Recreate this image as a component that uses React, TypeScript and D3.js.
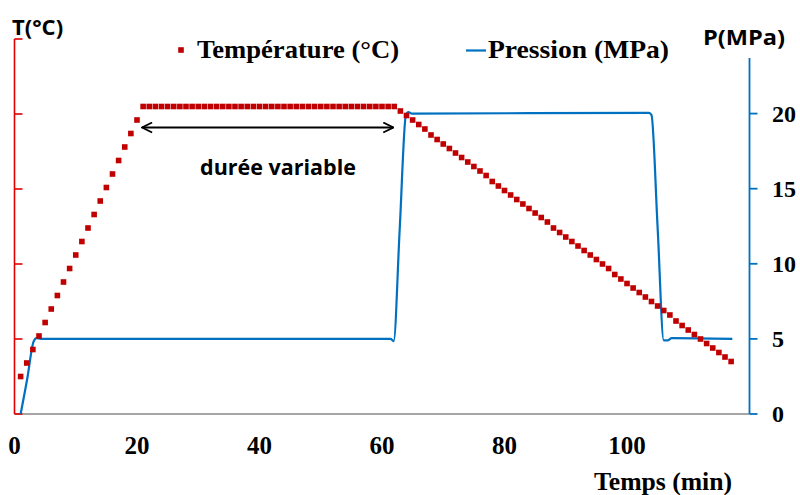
import React from "react";
import * as d3 from "d3";

const width = 800;
const height = 495;

// temperature sampled every minute, first sample at t = 1 min
const tempStart = 1;
const temperature = [
  25, 34, 43, 52, 61, 70, 79, 88, 97, 106, 115, 124, 133, 142, 151, 160, 169, 178, 187, 196,
  205, 205, 205, 205, 205, 205, 205, 205, 205, 205, 205, 205, 205, 205, 205, 205, 205, 205, 205, 205, 205,
  205, 205, 205, 205, 205, 205, 205, 205, 205, 205, 205, 205, 205, 205, 205, 205, 205, 205, 205, 205, 205,
  202, 199, 196, 193, 190, 186, 183, 180, 177, 174, 171, 168, 165, 162, 159, 155, 152, 149, 146, 143,
  140, 137, 134, 131, 128, 124, 121, 118, 115, 112, 109, 106, 103, 100, 97, 93, 90, 87, 84, 81,
  78, 75, 72, 69, 66, 62, 59, 56, 53, 50, 47, 44, 41, 38, 35,
];

const pressureTime = [1.0, 2.1, 3.1, 3.6, 4.3, 61.4, 61.9, 62.9, 63.9, 64.3, 64.9, 103.6, 104.0, 105.0, 106.0, 106.6, 107.3, 117.2];
const pressure = [0, 2.4, 4.8, 5.05, 5.0, 5.0, 4.85, 12.4, 19.9, 20.1, 20.0, 20.05, 19.9, 12.4, 4.9, 4.9, 5.05, 5.0];

const xTicks = [0, 20, 40, 60, 80, 100];
const tTicks = [0, 50, 100, 150, 200, 250];
const pTicks = [0, 5, 10, 15, 20];

const plateauStart = 21;
const plateauEnd = 62;

const red = "#C00000";
const axisRed = "#E00000";
const blue = "#0070C0";
const serif = "'Liberation Serif', 'Times New Roman', serif";
const sans = "'Open Sans', 'Noto Sans', sans-serif";

export default function App() {
  const x = d3.scaleLinear().domain([0, 120]).range([14.5, 749.5]);
  const yT = d3.scaleLinear().domain([0, 250]).range([414, 39]);
  const yP = d3.scaleLinear().domain([0, 23.7]).range([414, 58]);

  const pLine = d3
    .line<number>()
    .x((_, i) => x(pressureTime[i]))
    .y((d) => yP(d))
    .curve(d3.curveMonotoneX);

  const sq = 5.6;
  const ay = yT(205) + 21;

  return (
    <svg
      width={width}
      height={height}
      style={{ position: "absolute", left: 0, top: 0, background: "#fff" }}
    >
      <defs>
        <marker id="ah" viewBox="0 0 12 12" refX="11" refY="6" markerWidth="12" markerHeight="12" markerUnits="userSpaceOnUse" orient="auto-start-reverse">
          <path d="M1,1 L11,6 L1,11" fill="none" stroke="#000" strokeWidth={1.8} />
        </marker>
      </defs>

      {/* x axis */}
      <line x1={x(0)} x2={x(120)} y1={414} y2={414} stroke="#A6A6A6" strokeWidth={2} />
      {xTicks.map((t) => (
        <text key={t} x={x(t)} y={454} textAnchor="middle" fontFamily={serif} fontWeight="bold" fontSize={25}>
          {t}
        </text>
      ))}
      <text x={594} y={490} textLength={138} lengthAdjust="spacingAndGlyphs" fontFamily={serif} fontWeight="bold" fontSize={25}>
        Temps (min)
      </text>

      {/* left axis (temperature) */}
      <line x1={x(0)} x2={x(0)} y1={yT(250)} y2={yT(0)} stroke={axisRed} strokeWidth={1.6} />
      {tTicks.map((t) => (
        <line key={t} x1={x(0)} x2={x(0) + 8} y1={yT(t)} y2={yT(t)} stroke={axisRed} strokeWidth={1.6} />
      ))}
      <text x={12} y={35} fontFamily={sans} fontWeight="bold" fontSize={22}>
        T(°C)
      </text>

      {/* right axis (pressure) */}
      <line x1={x(120)} x2={x(120)} y1={yP(23.7)} y2={yP(0)} stroke={blue} strokeWidth={1.8} />
      {pTicks.map((p) => (
        <g key={p}>
          <line x1={x(120)} x2={x(120) + 8} y1={yP(p)} y2={yP(p)} stroke={blue} strokeWidth={1.8} />
          <text x={772} y={yP(p) + 8} fontFamily={serif} fontWeight="bold" fontSize={24}>
            {p}
          </text>
        </g>
      ))}
      <text x={703} y={45} textLength={82} lengthAdjust="spacingAndGlyphs" fontFamily={sans} fontWeight="bold" fontSize={22}>
        P(MPa)
      </text>

      {/* pressure curve */}
      <path d={pLine(pressure) || ""} fill="none" stroke={blue} strokeWidth={2.2} strokeLinejoin="round" />

      {/* temperature squares */}
      {temperature.map((v, i) => (
        <rect
          key={i}
          x={x(tempStart + i) - sq / 2}
          y={yT(v) - sq / 2}
          width={sq}
          height={sq}
          fill={red}
        />
      ))}

      {/* duration annotation */}
      <line
        x1={x(plateauStart) - 1}
        x2={x(plateauEnd) - 1}
        y1={ay}
        y2={ay}
        stroke="#000"
        strokeWidth={1.8}
        markerStart="url(#ah)"
        markerEnd="url(#ah)"
      />
      <text x={278} y={175} textAnchor="middle" fontFamily={sans} fontWeight="bold" fontSize={21.5}>
        durée variable
      </text>

      {/* legend */}
      <rect x={181 - sq / 2} y={50 - sq / 2} width={sq} height={sq} fill={red} />
      <text x={197} y={58} textLength={202} lengthAdjust="spacingAndGlyphs" fontFamily={serif} fontWeight="bold" fontSize={25}>
        Température (°C)
      </text>
      <line x1={466} x2={486} y1={50.5} y2={50.5} stroke={blue} strokeWidth={2.2} />
      <text x={488} y={58} textLength={181} lengthAdjust="spacingAndGlyphs" fontFamily={serif} fontWeight="bold" fontSize={25}>
        Pression (MPa)
      </text>
    </svg>
  );
}
